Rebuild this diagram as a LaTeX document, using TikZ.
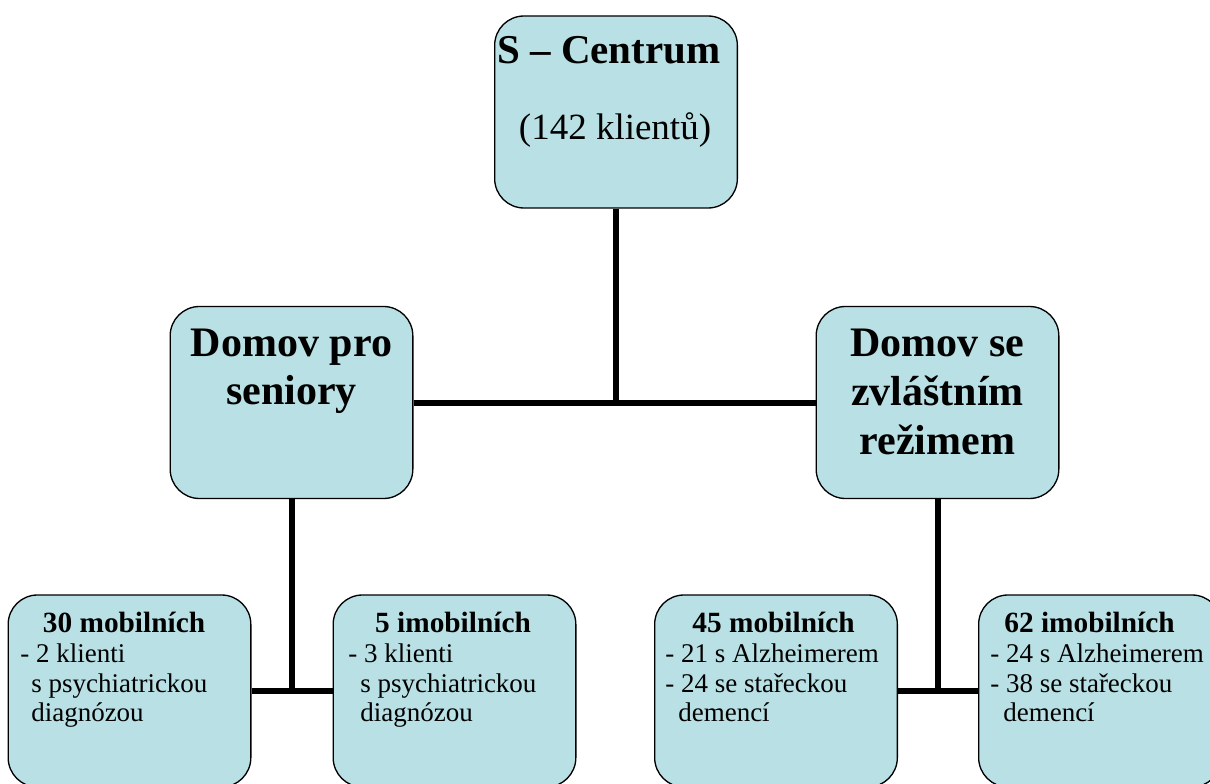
\documentclass[tikz,border=0pt]{standalone}
\usepackage{fontspec}
\setmainfont{Liberation Serif}
\definecolor{boxblue}{RGB}{185,224,228}

\begin{document}
\begin{tikzpicture}[x=0.75pt,y=-0.75pt,
		box/.style={draw,rectangle,rounded corners=22pt,fill=boxblue,line width=1pt,minimum width=182pt,minimum height=144pt},
		link/.style={line width=4.5pt},
		headbig/.style={font=\bfseries\fontsize{31.5pt}{36pt}\selectfont,anchor=base,inner sep=0pt},
		textbig/.style={font=\fontsize{27.75pt}{33pt}\selectfont,anchor=base,inner sep=0pt},
		headsmall/.style={font=\bfseries\fontsize{22pt}{25pt}\selectfont,anchor=base,inner sep=0pt},
		textsmall/.style={font=\fontsize{20.25pt}{24pt}\selectfont,anchor=base west,inner sep=0pt}]
			\useasboundingbox (0,0) rectangle (1210,784);
			\clip (0,0) rectangle (1210,784);
			% boxes
			\node[box] (S)at(616,112) {};
			\node[box] (DS)at(291.5,402.5) {};
			\node[box] (DZ)at(937.5,402.5) {};
			\node[box] (DS1)at(129.5,691) {};
			\node[box] (DS2)at(454.5,691) {};
			\node[box] (DZ1)at(776,691) {};
			\node[box] (DZ2)at(1100,691) {};
			% connectors
			\draw[link] (S.south) -- (S.south |- DS.east);
			\draw[link] (DS.east) -- (DZ.west);
			\draw[link] (DS.south) -- (DS.south |- DS1.east);
			\draw[link] (DS1.east) -- (DS2.west);
			\draw[link] (DZ.south) -- (DZ.south |- DZ1.east);
			\draw[link] (DZ1.east) -- (DZ2.west);
			% texts
			\node[headbig,font=\bfseries\fontsize{30.75pt}{36pt}\selectfont] (tS1)at(609,64) {S – Centrum};
			\node[textbig] (tS2)at(615,140) {(142 klientů)};
			\node[headbig] (tDS1)at(291.5,356) {Domov pro};
			\node[headbig] (tDS2)at(291.5,404) {seniory};
			\node[headbig] (tDZ1)at(937.5,356) {Domov se};
			\node[headbig] (tDZ2)at(937.5,405) {zvláštním};
			\node[headbig] (tDZ3)at(937.5,454) {režimem};
			\node[headsmall] (tDS1a)at(124,632) {30 mobilních};
			\node[textsmall] (tDS1b)at(20,662) {- 2 klienti};
			\node[textsmall] (tDS1c)at(31,692) {s psychiatrickou};
			\node[textsmall] (tDS1d)at(31,721) {diagnózou};
			\node[headsmall] (tDS2a)at(453,632) {5 imobilních};
			\node[textsmall] (tDS2b)at(348,662) {- 3 klienti};
			\node[textsmall] (tDS2c)at(360,692) {s psychiatrickou};
			\node[textsmall] (tDS2d)at(360,721) {diagnózou};
			\node[headsmall] (tDZ1a)at(773.5,632) {45 mobilních};
			\node[textsmall] (tDZ1b)at(665,662) {- 21 s Alzheimerem};
			\node[textsmall] (tDZ1c)at(665,692) {- 24 se stařeckou};
			\node[textsmall] (tDZ1d)at(678,721) {demencí};
			\node[headsmall] (tDZ2a)at(1089.5,632) {62 imobilních};
			\node[textsmall] (tDZ2b)at(990,662) {- 24 s Alzheimerem};
			\node[textsmall] (tDZ2c)at(990,692) {- 38 se stařeckou};
			\node[textsmall] (tDZ2d)at(1003,721) {demencí};
		\end{tikzpicture}
\end{document}
